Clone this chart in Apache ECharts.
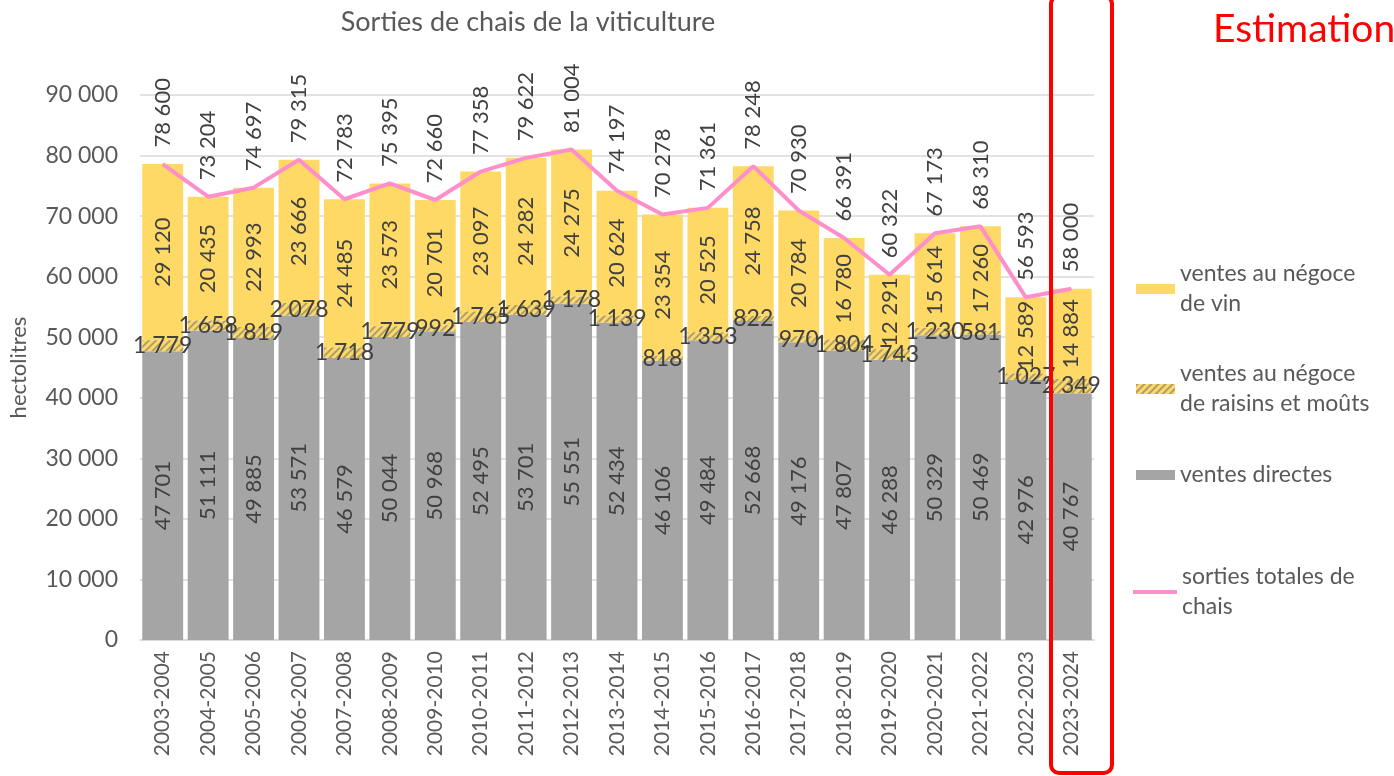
<!DOCTYPE html>
<html>
<head>
<meta charset="utf-8">
<script src="https://cdn.jsdelivr.net/npm/echarts@6/dist/echarts.min.js"></script>
<style>
  html, body { margin: 0; padding: 0; background: #fff; }
  #main { width: 1394px; height: 776px; }
</style>
</head>
<body>
<div id="main"></div>
<script>
// campagnes
var years = ['2003-2004', '2004-2005', '2005-2006', '2006-2007', '2007-2008', '2008-2009', '2009-2010',
  '2010-2011', '2011-2012', '2012-2013', '2013-2014', '2014-2015', '2015-2016', '2016-2017',
  '2017-2018', '2018-2019', '2019-2020', '2020-2021', '2021-2022', '2022-2023', '2023-2024'];

var ventesDirectes = [47701, 51111, 49885, 53571, 46579, 50044, 50968, 52495, 53701, 55551, 52434,
  46106, 49484, 52668, 49176, 47807, 46288, 50329, 50469, 42976, 40767];
var negoceRaisins = [1779, 1658, 1819, 2078, 1718, 1779, 992, 1765, 1639, 1178, 1139,
  818, 1353, 822, 970, 1804, 1743, 1230, 581, 1027, 2349];
var negoceVin = [29120, 20435, 22993, 23666, 24485, 23573, 20701, 23097, 24282, 24275, 20624,
  23354, 20525, 24758, 20784, 16780, 12291, 15614, 17260, 12589, 14884];
var sortiesTotales = [78600, 73204, 74697, 79315, 72783, 75395, 72660, 77358, 79622, 81004, 74197,
  70278, 71361, 78248, 70930, 66391, 60322, 67173, 68310, 56593, 58000];

var FONT = 'Lato';
var TXT = '#404040';
var GREY = '#595959';
var LBL = 22;

// 12345 -> "12 345"
function fmt(v) {
  return String(v).replace(/\B(?=(\d{3})+(?!\d))/g, ' ');
}

function legendItem(name, left, top, twoLines, icon, w, h) {
  return {
    orient: 'vertical',
    left: left,
    top: top,
    padding: 0,
    itemWidth: w,
    itemHeight: h,
    itemGap: 0,
    data: [{ name: name, icon: icon }],
    textStyle: {
      fontFamily: FONT, fontSize: 23, color: GREY, lineHeight: 30,
      padding: twoLines ? [30, 0, 0, 0] : 0
    },
    formatter: function (n) {
      if (n === 'ventes au négoce de vin') return 'ventes au négoce\nde vin';
      if (n === 'ventes au négoce de raisins et moûts') return 'ventes au négoce\nde raisins et moûts';
      if (n === 'sorties totales de chais') return 'sorties totales de\nchais';
      return n;
    }
  };
}

var chart = echarts.init(document.getElementById('main'));

var option = {
  animation: false,
  textStyle: { fontFamily: FONT },
  title: {
    text: 'Sorties de chais de la viticulture',
    left: 523,
    top: 4,
    textAlign: 'center',
    textStyle: { fontFamily: FONT, fontSize: 27, fontWeight: 'normal', color: GREY }
  },
  grid: { left: 133, right: 300, top: 95, bottom: 136 },
  legend: [
    legendItem('ventes au négoce de vin', 1136, 244, true, 'rect', 39, 10),
    legendItem('ventes au négoce de raisins et moûts', 1136, 344, true, 'rect', 39, 10),
    legendItem('ventes directes', 1136, 460, false, 'rect', 39, 10),
    legendItem('sorties totales de chais', 1133, 547, true, 'path://M0,0 L44,0 L44,4 L0,4 Z', 44, 4)
  ],
  xAxis: {
    type: 'category',
    data: years,
    axisLine: { lineStyle: { color: '#D9D9D9', width: 1.5 } },
    axisTick: { show: false },
    axisLabel: { rotate: 90, fontFamily: FONT, fontSize: 21, color: GREY, margin: 11 }
  },
  yAxis: {
    type: 'value',
    min: 0,
    max: 90000,
    interval: 10000,
    name: 'hectolitres',
    nameLocation: 'middle',
    nameGap: 110,
    nameRotate: 90,
    nameTextStyle: { fontFamily: FONT, fontSize: 22, color: GREY },
    axisLine: { show: false },
    axisTick: { show: false },
    axisLabel: { fontFamily: FONT, fontSize: 23, color: GREY, margin: 22, formatter: fmt },
    splitLine: { lineStyle: { color: '#D9D9D9', width: 1.5 } }
  },
  series: [
    {
      name: 'ventes directes',
      type: 'bar',
      stack: 'total',
      barCategoryGap: '10%',
      data: ventesDirectes,
      itemStyle: { color: '#A5A5A5' },
      label: {
        show: true, position: 'inside', rotate: 90,
        fontFamily: FONT, fontSize: LBL, color: TXT,
        formatter: function (p) { return fmt(p.value); }
      }
    },
    {
      name: 'ventes au négoce de raisins et moûts',
      type: 'bar',
      stack: 'total',
      data: negoceRaisins,
      itemStyle: {
        color: '#FFD966',
        decal: {
          symbol: 'rect',
          symbolSize: 1,
          dashArrayX: [1, 0],
          dashArrayY: [1.2, 2.8],
          rotation: -Math.PI / 4,
          color: 'rgba(120,120,120,0.6)'
        }
      },
      label: {
        show: true, position: 'inside',
        fontFamily: FONT, fontSize: 23, color: TXT,
        formatter: function (p) { return fmt(p.value); }
      },
      z: 3
    },
    {
      name: 'ventes au négoce de vin',
      type: 'bar',
      stack: 'total',
      data: negoceVin,
      itemStyle: { color: '#FFD966' },
      label: {
        show: true, position: 'inside', rotate: 90,
        fontFamily: FONT, fontSize: LBL, color: TXT,
        formatter: function (p) { return fmt(p.value); }
      }
    },
    {
      name: 'sorties totales de chais',
      type: 'line',
      data: sortiesTotales,
      symbol: 'circle',
      symbolSize: 1,
      showSymbol: true,
      lineStyle: { color: '#FF8FCB', width: 4 },
      itemStyle: { color: '#FF8FCB' },
      label: {
        show: true, position: 'top', rotate: 90, align: 'left', verticalAlign: 'middle',
        distance: 16,
        fontFamily: FONT, fontSize: LBL, color: TXT,
        formatter: function (p) { return fmt(p.value); }
      },
      labelLayout: { hideOverlap: false },
      z: 5
    }
  ],
  graphic: [
    {
      type: 'rect',
      shape: { x: 1051, y: -4, width: 61, height: 777, r: 8 },
      style: { fill: 'none', stroke: '#FF0000', lineWidth: 4 },
      z: 100
    },
    {
      type: 'text',
      left: 1213,
      top: 10,
      style: { text: 'Estimation', fill: '#FF0000', font: '39px ' + FONT }
    }
  ]
};

chart.setOption(option);
</script>
</body>
</html>
